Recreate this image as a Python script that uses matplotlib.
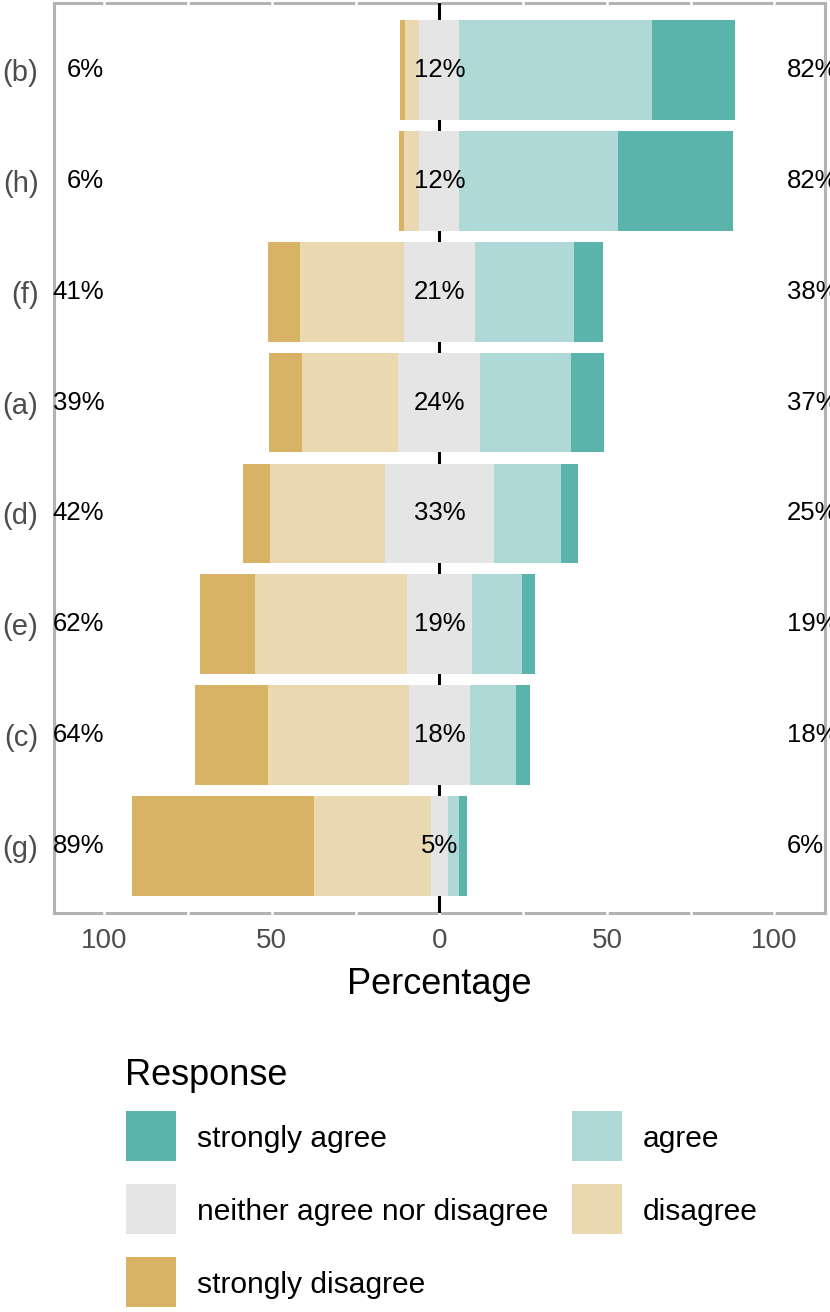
import matplotlib
matplotlib.use("Agg")
import matplotlib.pyplot as plt
from matplotlib.patches import Rectangle
from matplotlib.transforms import blended_transform_factory

plt.rcParams['font.family'] = ['Liberation Sans', 'DejaVu Sans']

# ---- data ----
items = ["(b)", "(h)", "(f)", "(a)", "(d)", "(e)", "(c)", "(g)"]
strongly_disagree = [1.5, 1.7, 9.6, 9.8, 7.9, 16.6, 21.9, 54.4]
disagree          = [4.2, 4.5, 31.1, 28.8, 34.3, 45.2, 41.8, 34.8]
neutral           = [11.9, 11.9, 21.0, 24.4, 32.7, 19.4, 18.4, 5.0]
agree             = [57.5, 47.4, 29.7, 27.2, 20.0, 15.0, 13.8, 3.5]
strongly_agree    = [24.7, 34.3, 8.5, 9.8, 5.1, 3.8, 4.1, 2.3]

levels = ["strongly agree", "agree", "neither agree nor disagree",
          "disagree", "strongly disagree"]
colors = {"strongly agree": "#5AB4AC", "agree": "#AED9D6",
          "neither agree nor disagree": "#E5E5E5",
          "disagree": "#EAD8B1", "strongly disagree": "#D8B365"}
xtick_values = [-100, -50, 0, 50, 100]
xtick_labels = ["100", "50", "0", "50", "100"]

W, H = 830, 1312
fig = plt.figure(figsize=(W / 100, H / 100), dpi=100)
left, right, top, bottom = 54, 824.7, 3.3, 912.7
ax = fig.add_axes([left / W, 1 - bottom / H, (right - left) / W, (bottom - top) / H])
ax.set_xlim(-115, 115)
ax.set_ylim(len(items) - 1 + 0.6, -0.6)

ypos = list(range(len(items)))
bh = 0.9
for i, y in enumerate(ypos):
    n = neutral[i]
    ax.barh(y, -disagree[i], left=-n / 2, height=bh, color=colors["disagree"], zorder=3, linewidth=0)
    ax.barh(y, -strongly_disagree[i], left=-n / 2 - disagree[i], height=bh,
            color=colors["strongly disagree"], zorder=3, linewidth=0)
    ax.barh(y, n, left=-n / 2, height=bh, color=colors["neither agree nor disagree"], zorder=3, linewidth=0)
    ax.barh(y, agree[i], left=n / 2, height=bh, color=colors["agree"], zorder=3, linewidth=0)
    ax.barh(y, strongly_agree[i], left=n / 2 + agree[i], height=bh,
            color=colors["strongly agree"], zorder=3, linewidth=0)
    low = strongly_disagree[i] + disagree[i]
    high = agree[i] + strongly_agree[i]
    ax.text(-100, y, f"{round(low)}%", ha="right", va="center", fontsize=18.5, zorder=5)
    ax.text(0, y, f"{round(n)}%", ha="center", va="center", fontsize=18.5, zorder=5)
    ax.text(103.6, y, f"{round(high)}%", ha="left", va="center", fontsize=18.5, zorder=5, clip_on=False)

# zero line behind bars
ax.axvline(0, color="black", lw=2.2, zorder=2.8)

# border
for s in ax.spines.values():
    s.set_color("#B3B3B3")
    s.set_linewidth(2.2)
    s.set_zorder(2.5)

# white gridlines crossing the border
trans = blended_transform_factory(ax.transData, ax.transAxes)
for gx in range(-100, 101, 25):
    ax.plot([gx, gx], [-0.01, 1.01], color="white", lw=1.8, transform=trans,
            zorder=2.6, clip_on=False, solid_capstyle="butt")

ax.set_xticks(xtick_values)
ax.set_xticklabels(xtick_labels)
ax.set_yticks(ypos)
ax.set_yticklabels(items)
ax.tick_params(axis="x", length=0, pad=11, labelsize=20, labelcolor="#4D4D4D")
ax.tick_params(axis="y", length=2.5, width=1.5, color="white", direction="inout",
               pad=10, labelsize=21, labelcolor="#4D4D4D")

fig.text(439.4 / W, 1 - 994 / H, "Percentage", ha="center", va="baseline", fontsize=26)

# legend
fig.text(125 / W, 1 - 1085 / H, "Response", ha="left", va="baseline", fontsize=26)
key_x = [125.7, 571.7]
key_y = [1110.7, 1183.5, 1256.7]
ks = 50
for i, lev in enumerate(levels):
    r, c = divmod(i, 2)
    x0, y0 = key_x[c], key_y[r]
    fig.add_artist(Rectangle((x0 / W, 1 - (y0 + ks) / H), ks / W, ks / H,
                             transform=fig.transFigure, facecolor=colors[lev], edgecolor="none"))
    fig.text((x0 + 71) / W, 1 - (y0 + ks / 2 + 11) / H, lev, ha="left", va="baseline", fontsize=21.6)

fig.savefig("out.png", dpi=100)
